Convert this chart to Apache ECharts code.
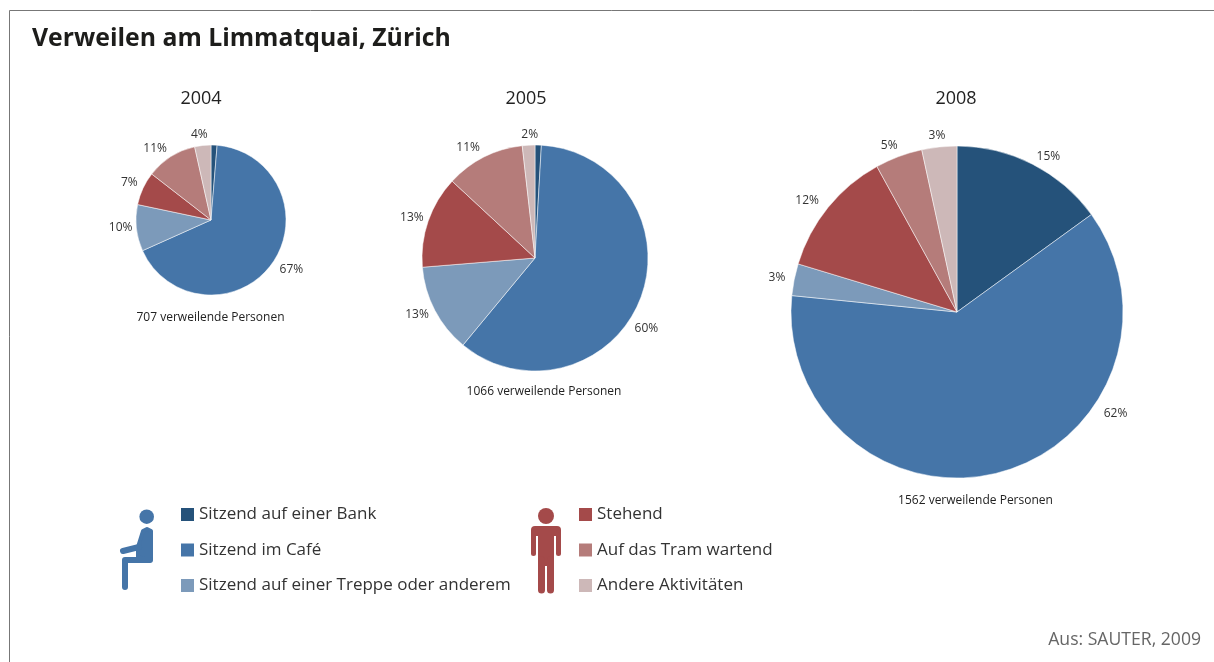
<!DOCTYPE html>
<html>
<head>
<meta charset="utf-8">
<title>Verweilen am Limmatquai, Zürich</title>
<script src="https://cdn.jsdelivr.net/npm/echarts@6/dist/echarts.min.js"></script>
<style>
    html, body { margin: 0; padding: 0; background: #fff; }
    #chart { width: 1214px; height: 662px; }
</style>
</head>
<body>
<div id="chart"></div>
<script>
var categories = ['Sitzend auf einer Bank', 'Sitzend im Café', 'Sitzend auf einer Treppe oder anderem',
    'Stehend', 'Auf das Tram wartend', 'Andere Aktivitäten'];
// percent shares, labels show them rounded
var values2004 = [1.3, 67, 10, 7.2, 11, 3.5];
var values2005 = [0.9, 60.1, 12.7, 13.2, 11.3, 1.8];
var values2008 = [15, 61.5, 3.1, 12.3, 4.6, 3.4];
var years = ['2004', '2005', '2008'];
var personen = ['707 verweilende Personen', '1066 verweilende Personen', '1562 verweilende Personen'];
var colors = ['#25527a', '#4575a8', '#7c9aba', '#a44a4a', '#b57c7a', '#cdb8b8'];

var FONT = '"Open Sans", sans-serif';
var BLUE = '#4575a8', RED = '#a44a4a';

// label nudges per slice, the source places them by hand
var nudge2004 = [[0, 0], [-5, 1], [10, -1], [8, -2], [6, 0], [11, -2]];
var nudge2005 = [[0, 0], [-19, 26], [7, 0], [9, -1], [5, -2], [15, -2]];
var nudge2008 = [[-5, 0], [96, -67], [5, 0], [3, -1], [7, -3], [12, -2]];

function pie(name, values, center, radius, nudge, hideBank) {
    return {
        type: 'pie',
        name: name,
        center: center,
        radius: radius,
        startAngle: 90,
        clockwise: true,
        silent: true,
        avoidLabelOverlap: false,
        labelLine: {show: false, length: 9, length2: 0},
        labelLayout: function (params) {
            return {dx: nudge[params.dataIndex][0], dy: nudge[params.dataIndex][1]};
        },
        label: {
            show: true,
            position: 'outside',
            fontFamily: FONT,
            fontSize: 12,
            color: '#333',
            formatter: function (p) {
                return Math.round(p.value) + '%';
            }
        },
        itemStyle: {borderColor: '#fff', borderWidth: 0.5},
        data: values.map(function (v, i) {
            var item = {name: categories[i], value: v, itemStyle: {color: colors[i]}};
            if (i == 0 && hideBank) {
                item.label = {show: false};
            }
            return item;
        })
    };
}

function caption(text, x, y, size) {
    return {
        text: text,
        left: x,
        top: y,
        textAlign: 'center',
        padding: 0,
        textStyle: {fontFamily: FONT, fontSize: size, fontWeight: 'normal', color: '#222'}
    };
}

function legendColumn(names, x) {
    return {
        data: names,
        orient: 'vertical',
        left: x,
        top: 506,
        padding: 0,
        itemWidth: 15,
        itemHeight: 15,
        itemGap: 18.5,
        icon: 'rect',
        silent: true,
        selectedMode: false,
        textStyle: {fontFamily: FONT, fontSize: 17, color: '#333', padding: [0, 0, 0, -1]}
    };
}

function stroke(points, width, color) {
    return {
        type: 'polyline',
        silent: true,
        shape: {points: points},
        style: {stroke: color, lineWidth: width, lineCap: 'round', lineJoin: 'round', fill: null}
    };
}

var myChart = echarts.init(document.getElementById('chart'));

var option = {
    animation: false,
    backgroundColor: '#fff',
    title: [
        {
            text: 'Verweilen am Limmatquai, Zürich',
            left: 32,
            top: 26,
            padding: 0,
            textStyle: {fontFamily: FONT, fontSize: 24.8, fontWeight: 'bold', color: '#1d1d1b'}
        },
        caption(years[0], 201, 90, 18),
        caption(years[1], 526, 90, 18),
        caption(years[2], 956, 90, 18),
        caption(personen[0], 210.5, 312, 12),
        caption(personen[1], 544, 386, 12),
        caption(personen[2], 975.5, 495, 12),
        {
            text: 'Aus: SAUTER, 2009',
            right: 13,
            top: 631,
            padding: 0,
            textStyle: {fontFamily: FONT, fontSize: 17.6, fontWeight: 'normal', color: '#666'}
        }
    ],
    legend: [
        legendColumn(categories.slice(0, 3), 179),
        legendColumn(categories.slice(3), 577)
    ],
    series: [
        pie(years[0], values2004, [211, 220], 75, nudge2004, true),
        pie(years[1], values2005, [535, 258], 113, nudge2005, true),
        pie(years[2], values2008, [957, 312], 166, nudge2008, false)
    ],
    graphic: [
        // frame
        {type: 'line', silent: true, shape: {x1: 9.5, y1: 10.5, x2: 1214, y2: 10.5}, style: {stroke: '#777', lineWidth: 1}},
        {type: 'line', silent: true, shape: {x1: 9.5, y1: 10.5, x2: 9.5, y2: 662}, style: {stroke: '#777', lineWidth: 1}},
        // sitting figure
        {type: 'circle', silent: true, shape: {cx: 146.7, cy: 516.7, r: 7.3}, style: {fill: BLUE}},
        {
            type: 'polygon',
            silent: true,
            shape: {points: [[143, 531], [147, 529], [151, 531], [151, 559], [149, 561], [138, 557], [138, 547]]},
            style: {fill: BLUE, stroke: BLUE, lineWidth: 4, lineJoin: 'round'}
        },
        stroke([[123, 551], [139, 547]], 6, BLUE),
        stroke([[125, 587], [125, 560], [150, 560]], 6, BLUE),
        // standing figure
        {type: 'circle', silent: true, shape: {cx: 546, cy: 516, r: 8}, style: {fill: RED}},
        {type: 'rect', silent: true, shape: {x: 531, y: 526, width: 30, height: 10, r: [4, 4, 0, 0]}, style: {fill: RED}},
        {type: 'rect', silent: true, shape: {x: 538, y: 526, width: 16, height: 40}, style: {fill: RED}},
        stroke([[533.5, 532], [533.5, 553.5]], 5, RED),
        stroke([[558.5, 532], [558.5, 553.5]], 5, RED),
        stroke([[541.5, 560], [541.5, 590]], 7, RED),
        stroke([[550.5, 560], [550.5, 590]], 7, RED)
    ]
};
myChart.setOption(option);
</script>
</body>
</html>
